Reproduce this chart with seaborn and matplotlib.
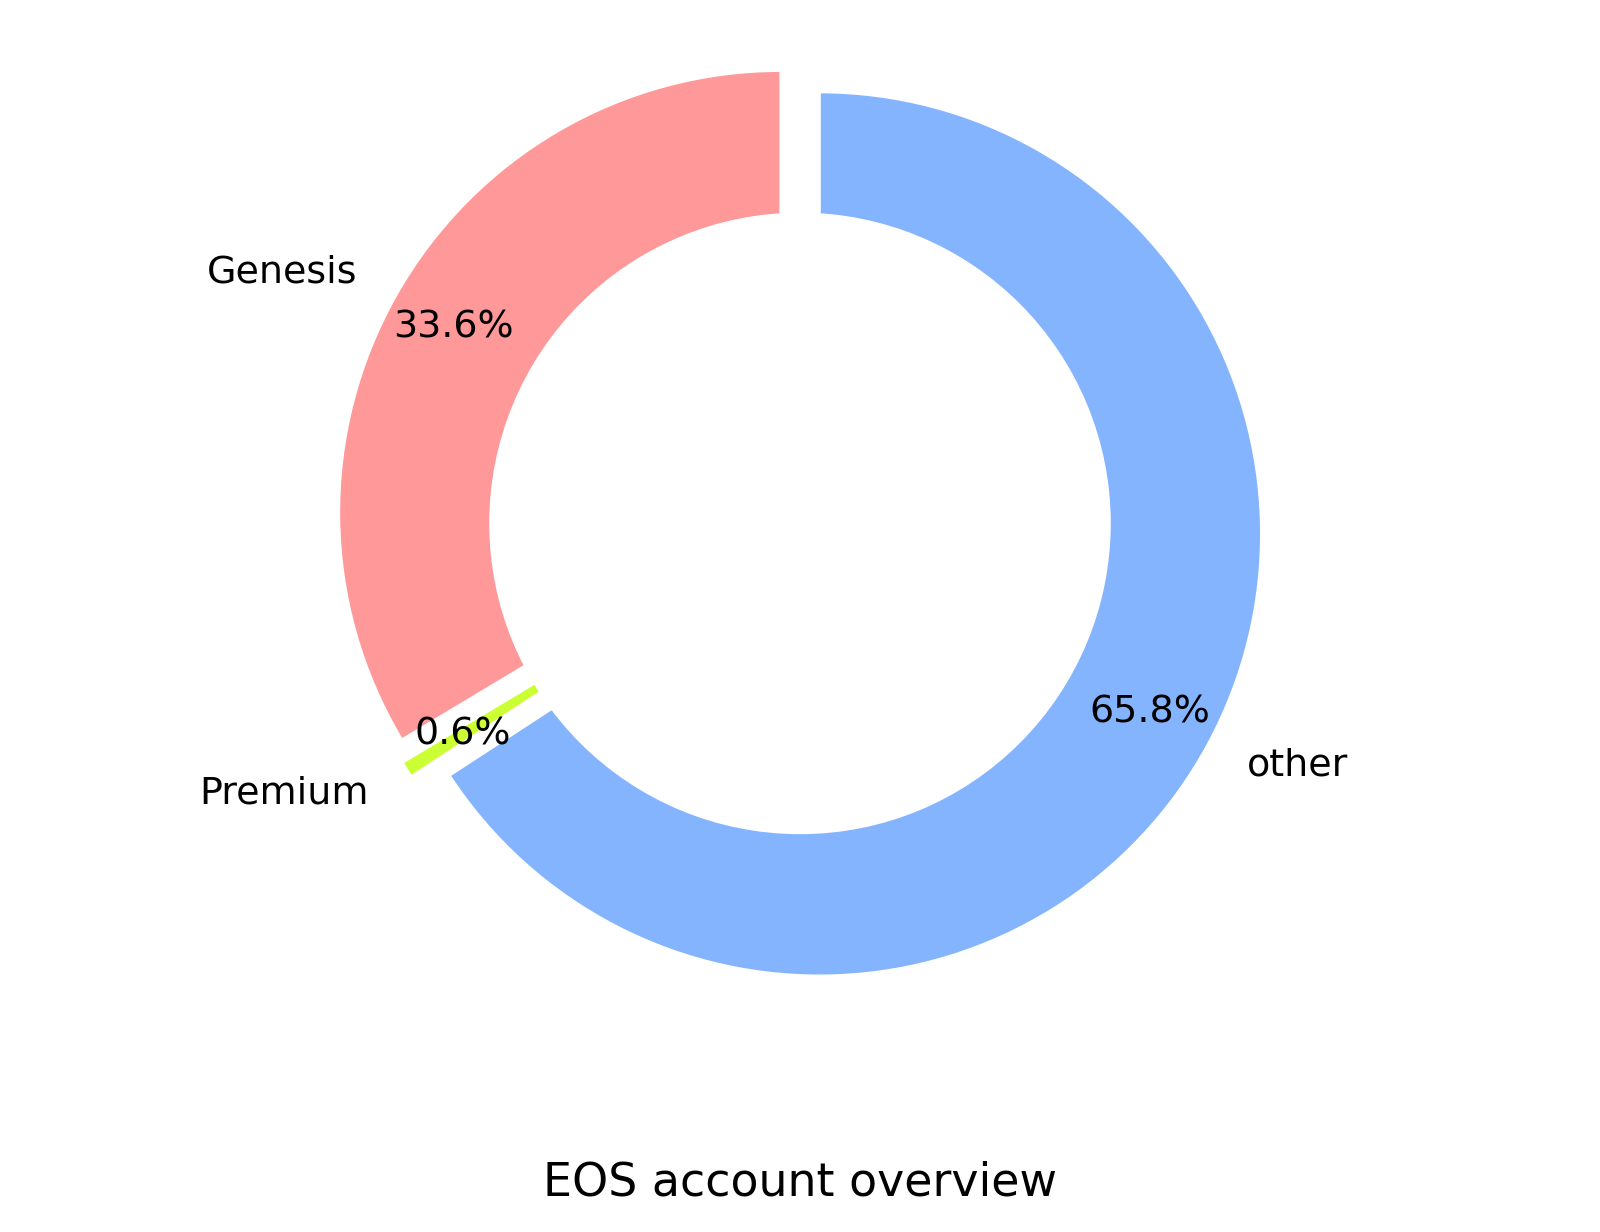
import matplotlib
matplotlib.use("Agg")
import matplotlib.pyplot as plt
import seaborn as sns

labels = ["Genesis", "Premium", "other"]
shares = [33.6, 0.6, 65.8]
colors = ["#ff9999", "#ccff33", "#85b4ff"]
explode = [0.05, 0.05, 0.05]
title = "EOS account overview"

sns.set_style("white")
plt.rcParams["font.family"] = ["DejaVu Sans"]
plt.rcParams["text.color"] = "black"

fig = plt.figure(figsize=(8, 6.16), dpi=200)
ax = fig.add_axes([0, 0, 1, 1])
ax.pie(shares, labels=labels, colors=colors, explode=explode, startangle=90,
       autopct="%1.1f%%", pctdistance=0.85, labeldistance=1.1,
       textprops={"fontsize": 13.7, "color": "black"})
ax.add_artist(plt.Circle((0, 0), 0.70, fc="white"))
ax.set_xlim(-1.810, 1.810)
ax.set_ylim(-1.603, 1.184)
ax.axis("off")
fig.text(0.5, 36 / 1232, title, ha="center", va="baseline", fontsize=16.5,
         color="black")
fig.savefig("out.png", dpi=200)
